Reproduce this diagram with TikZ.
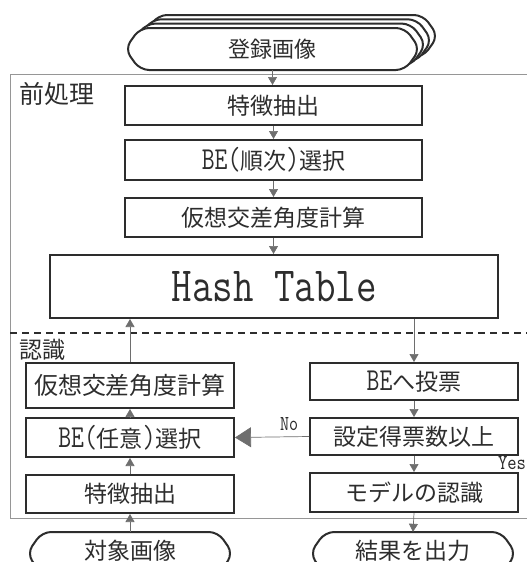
\documentclass[tikz,border=0pt]{standalone}
\usepackage{fontspec}
\usepackage{graphicx}
\setmainfont{Noto Sans CJK JP}
\newfontfamily\latn[FakeStretch=0.78]{Latin Modern Mono}
\usetikzlibrary{arrows.meta}
\definecolor{ink}{RGB}{45,45,45}
\definecolor{wire}{RGB}{110,110,110}
\definecolor{framec}{RGB}{150,150,150}
\newcommand\latw[1]{{\latn\fontsize{32}{32}\selectfont #1}}
\newcommand\termshape[4]{\draw[termline] (#1+15,#2) -- (#3-15,#2) -- (#3,{(#2+#4)/2}) -- (#3-15,#4) -- (#1+15,#4) -- (#1,{(#2+#4)/2}) -- cycle;}
\begin{document}
\begin{tikzpicture}[x=1pt,y=-1pt,
  box/.style={draw=ink, line width=2pt, inner sep=0pt, text=ink, font=\fontsize{23}{26}\selectfont},
  term/.style={draw=none, inner sep=0pt, text=ink, font=\fontsize{23}{26}\selectfont},
  termline/.style={draw=ink, line width=2pt, fill=white, rounded corners=9pt},
  flow/.style={draw=wire, line width=0.7pt, -{Triangle[length=8pt,width=9pt]}, color=wire},
  bigflow/.style={draw=wire, line width=0.7pt, -{Triangle[length=16pt,width=20pt]}},
  lbl/.style={inner sep=0pt, text=ink, anchor=west}
]
\useasboundingbox (0,0) rectangle (527,562);
\clip (0,0) rectangle (527,562);

% outer frame and separator
\draw[framec, line width=0.7pt] (10,74) rectangle (530,518);
\draw[ink, line width=2.5pt, dash pattern=on 7pt off 5pt] (10,333) -- (527,333);

% stacked registered images
\termshape{143}{15}{438}{57}
\termshape{137}{19.3}{432}{61.3}
\termshape{131}{23.6}{426}{65.6}
\termshape{125}{28}{420}{70}
\node[term, minimum width=295pt, minimum height=42pt, font=\fontsize{22}{24}\selectfont] (reg) at (272.5,49) {登録画像};

% labels
\node[lbl, font=\fontsize{25}{27}\selectfont] (pre) at (19,94) {前処理};
\node[lbl, font=\fontsize{23}{25}\selectfont] (rec) at (19,350) {認識};

% preprocessing column
\node[box, minimum width=297pt, minimum height=39pt] (f1) at (273.5,105.5) {特徴抽出};
\node[box, minimum width=297pt, minimum height=40pt] (be1) at (273.5,160) {\latw{BE(}順次\latw{)}選択};
\node[box, minimum width=297pt, minimum height=39pt] (vc1) at (273.5,217.5) {仮想交差角度計算};
\node[box, minimum width=448pt, minimum height=63pt] (hash) at (274,286.5) {\resizebox{205pt}{30pt}{\latn Hash Table}};

% recognition left column
\node[box, minimum width=208pt, minimum height=45pt, font=\fontsize{24}{26}\selectfont] (vc2) at (130,385.5) {仮想交差角度計算};
\node[box, minimum width=208pt, minimum height=39pt] (be2) at (130,437.5) {\latw{BE(}任意\latw{)}選択};
\node[box, minimum width=208pt, minimum height=38pt] (f2) at (130,494) {特徴抽出};
\termshape{27}{532}{233}{575}
\node[term, minimum width=206pt, minimum height=38pt] (tgt) at (130,551) {対象画像};

% recognition right column
\node[box, minimum width=208pt, minimum height=37pt] (vote) at (414,381.5) {\latw{BE}へ投票};
\node[box, minimum width=208pt, minimum height=37pt] (thr) at (414,436.5) {設定得票数以上};
\node[box, minimum width=208pt, minimum height=39pt] (model) at (414,492.5) {モデルの認識};
\termshape{310}{532}{516}{575}
\node[term, minimum width=206pt, minimum height=38pt] (out) at (413,551) {結果を出力};

% connectors, preprocessing
\draw[flow] (reg.south) -- (reg.south |- f1.north);
\draw[flow] (f1.south) -- (be1.north);
\draw[flow] (be1.south) -- (vc1.north);
\draw[flow] (vc1.south) -- (vc1.south |- hash.north);

% connectors, recognition left
\draw[flow] (tgt.north) -- (f2.south);
\draw[flow] (f2.north) -- (be2.south);
\draw[flow] (be2.north) -- (vc2.south);
\draw[flow] (vc2.north) -- (vc2.north |- hash.south);

% connectors, recognition right
\draw[flow] (vote.north |- hash.south) -- (vote.north);
\draw[flow] (vote.south) -- (thr.north);
\draw[flow] (thr.south) -- (model.north);
\draw[flow] (model.south) -- (out.north);
\draw[bigflow] (thr.west) -- (be2.east);

\node[inner sep=0pt, text=ink] (no) at (289,424) {\resizebox{18pt}{13pt}{\latn No}};
\node[inner sep=0pt, text=ink] (yes) at (512,463) {\resizebox{28pt}{13pt}{\latn Yes}};
\end{tikzpicture}
\end{document}
